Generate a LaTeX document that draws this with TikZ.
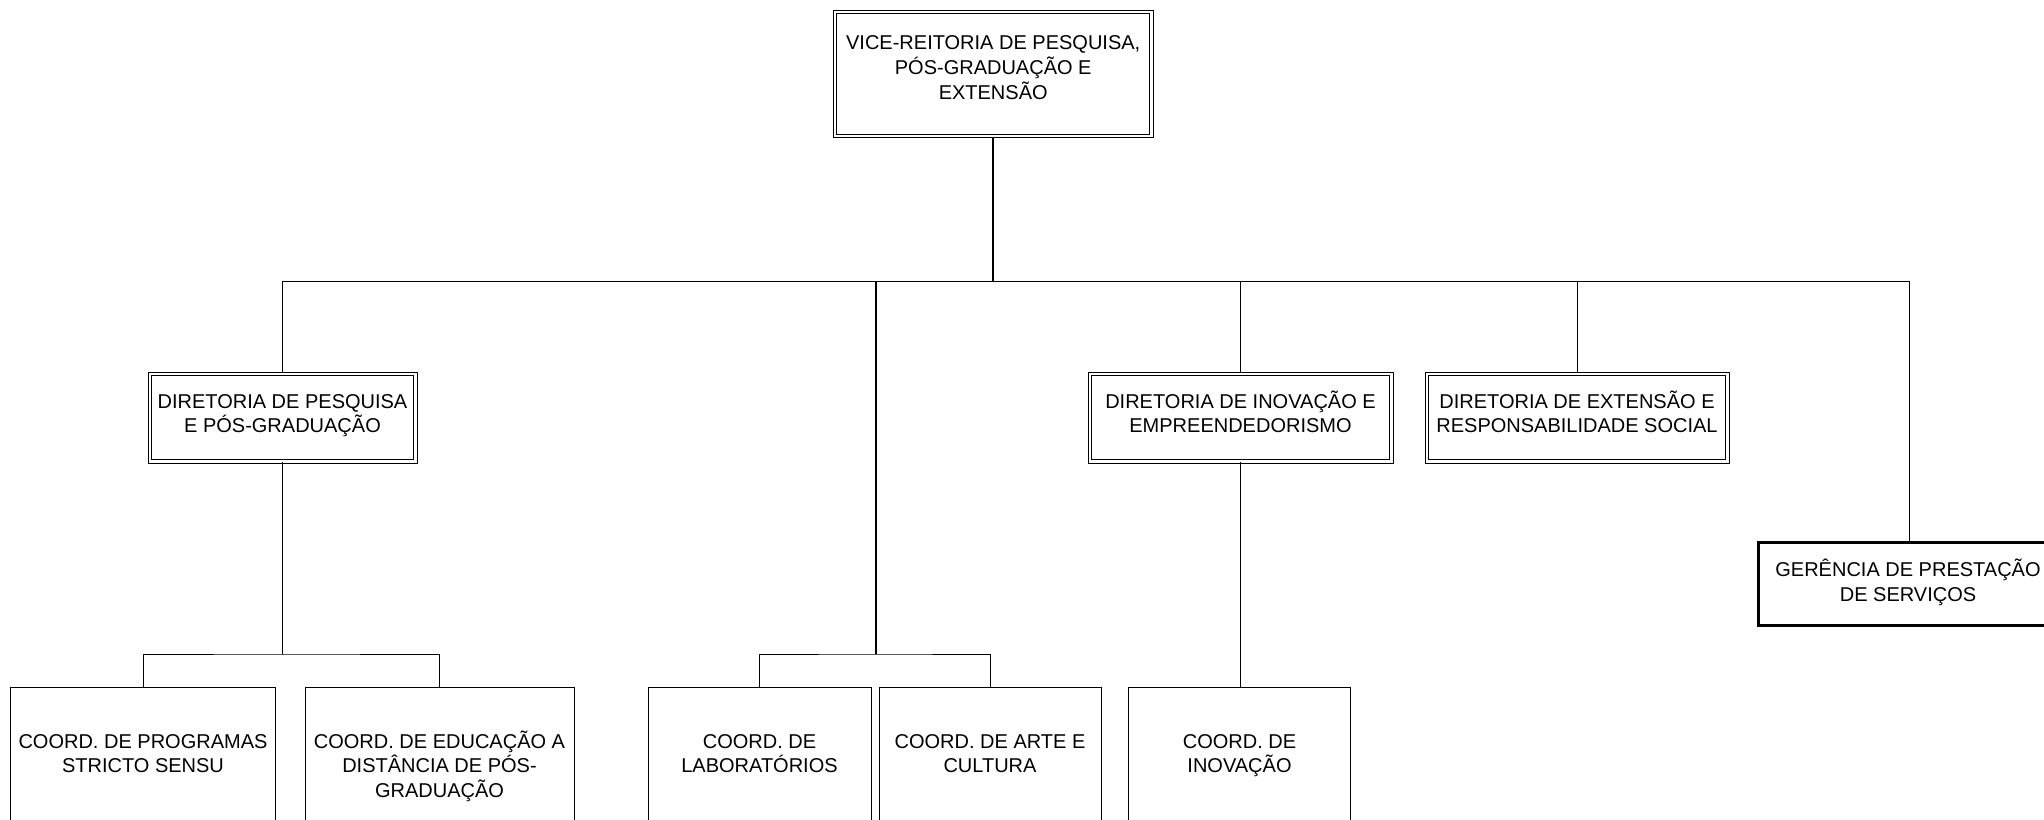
\documentclass[tikz,border=0pt]{standalone}
\usepackage{fontspec}
\setmainfont{Liberation Sans}
\begin{document}
\begin{tikzpicture}[x=1pt,y=-1pt,
  dblbox/.style={draw, rectangle, double, double distance=2.4pt, line width=1pt, inner sep=0pt},
  sglbox/.style={draw, rectangle, line width=1pt, inner sep=0pt},
  heavybox/.style={draw, rectangle, line width=3pt, inner sep=0pt},
  txt/.style={align=center, inner sep=0pt, anchor=base, font=\fontsize{20}{24.8}\selectfont},
  conn/.style={line width=1pt},
  trunk/.style={line width=1.8pt}
]
\clip (0,0) rectangle (2044,819);
\fill[white] (0,0) rectangle (2044,819);

% boxes
\node[dblbox, minimum width=316.5pt, minimum height=124.3pt] (vr) at (993.2,73.9) {};
\node[dblbox, minimum width=265.6pt, minimum height=87.6pt] (dp) at (282.5,417.5) {};
\node[dblbox, minimum width=301.6pt, minimum height=87.6pt] (di) at (1240.5,417.5) {};
\node[dblbox, minimum width=300.6pt, minimum height=87.6pt] (de) at (1577,417.5) {};
\node[heavybox, minimum width=302pt, minimum height=82.5pt] (gp) at (1909,584) {};
\node[sglbox, minimum width=265pt, minimum height=173pt, anchor=north] (c1) at (143,687) {};
\node[sglbox, minimum width=269pt, minimum height=173pt, anchor=north] (c2) at (439.5,687) {};
\node[sglbox, minimum width=223pt, minimum height=173pt, anchor=north] (c3) at (759.5,687) {};
\node[sglbox, minimum width=222pt, minimum height=173pt, anchor=north] (c4) at (990,687) {};
\node[sglbox, minimum width=222pt, minimum height=173pt, anchor=north] (c5) at (1239.5,687) {};

% texts (anchor = baseline of the last line)
\node[txt] (vrt) at (993.2,99.1) {VICE-REITORIA DE PESQUISA,\\PÓS-GRADUAÇÃO E\\EXTENSÃO};
\node[txt] (dpt) at (282.5,432.8) {DIRETORIA DE PESQUISA\\E PÓS-GRADUAÇÃO};
\node[txt] (dit) at (1240.5,432.8) {DIRETORIA DE INOVAÇÃO E\\EMPREENDEDORISMO};
\node[txt] (det) at (1577,432.8) {DIRETORIA DE EXTENSÃO E\\RESPONSABILIDADE SOCIAL};
\node[txt] (gpt) at (1908,601) {GERÊNCIA DE PRESTAÇÃO\\DE SERVIÇOS};
\node[txt] (c1t) at (143,772.8) {COORD. DE PROGRAMAS\\STRICTO SENSU};
\node[txt] (c2t) at (439.5,797.6) {COORD. DE EDUCAÇÃO A\\DISTÂNCIA DE PÓS-\\GRADUAÇÃO};
\node[txt] (c3t) at (759.5,772.8) {COORD. DE\\LABORATÓRIOS};
\node[txt] (c4t) at (990,772.8) {COORD. DE ARTE E\\CULTURA};
\node[txt] (c5t) at (1239.5,772.8) {COORD. DE\\INOVAÇÃO};

% junctions
\coordinate (bus) at (993.2,281);
\coordinate (mid) at (876,281);
\coordinate (midj) at (876,654);
\coordinate (dpj) at (282.5,654);

% connectors
\draw[trunk] (vr.south) -- (bus);
\draw[conn] (dp.north) |- (bus);
\draw[conn] (gp.north) |- (bus);
\draw[conn] (di.north) -- (di.north |- bus);
\draw[conn] (de.north) -- (de.north |- bus);
\draw[trunk] (mid) -- (midj);
\draw[conn] (c3.north) |- (midj) -| (c4.north);
\draw[conn] (dp.south) -- (dpj);
\draw[conn] (c1.north) |- (dpj) -| (c2.north);
\draw[conn] (di.south) -- (di.south |- c5.north);
\end{tikzpicture}
\end{document}
